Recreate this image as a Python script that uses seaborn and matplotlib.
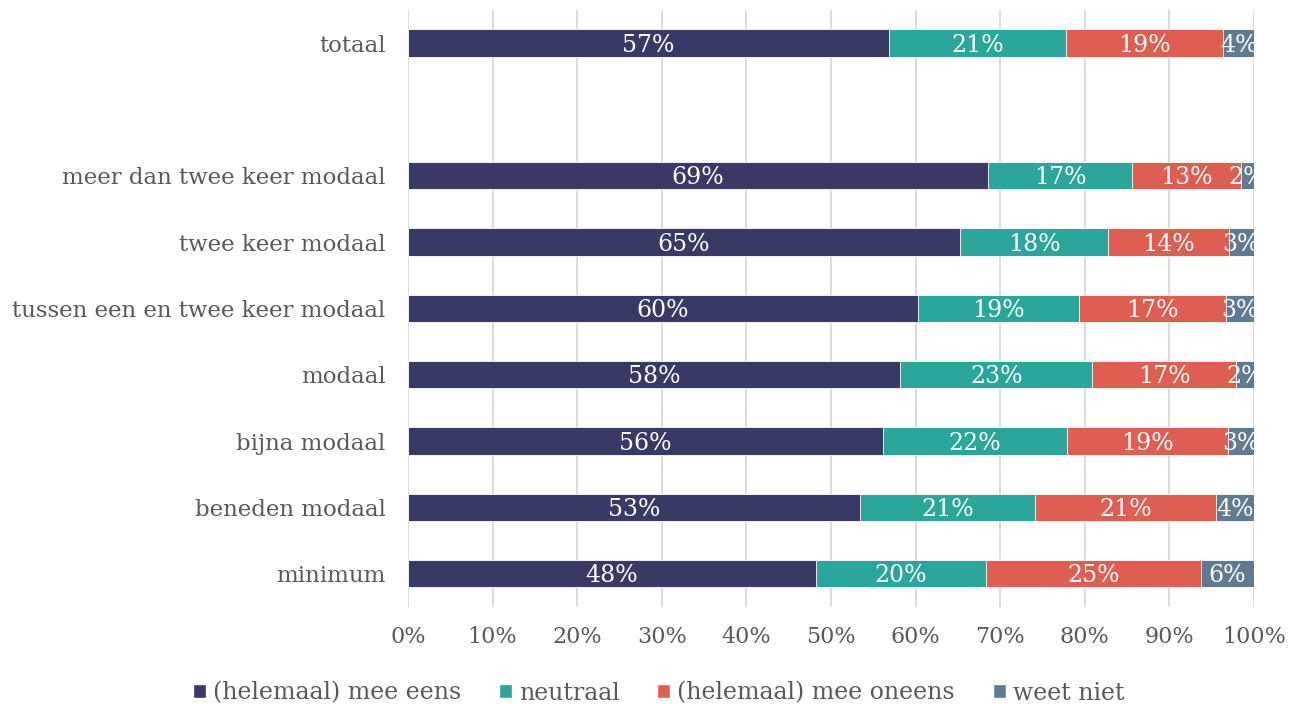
import matplotlib
matplotlib.use("Agg")
import matplotlib.pyplot as plt
import seaborn as sns
import pandas as pd
import numpy as np
from matplotlib.patches import Patch

# data (percentages)
groups = ['totaal', 'meer dan twee keer modaal', 'twee keer modaal',
          'tussen een en twee keer modaal', 'modaal', 'bijna modaal',
          'beneden modaal', 'minimum']
series = ['(helemaal) mee eens', 'neutraal', '(helemaal) mee oneens', 'weet niet']
mee_eens = [56.9, 68.6, 65.2, 60.3, 58.2, 56.1, 53.4, 48.2]
neutraal = [20.9, 17.0, 17.6, 19.0, 22.7, 21.8, 20.7, 20.1]
mee_oneens = [18.6, 12.9, 14.2, 17.4, 17.0, 19.0, 21.4, 25.4]
weet_niet = [3.6, 1.5, 3.0, 3.3, 2.1, 3.1, 4.5, 6.3]

colors = ['#383965', '#2aa79a', '#df5e52', '#607a8f']
order = ['totaal', ' '] + groups[1:]

sns.set_style("white")
plt.rcParams['font.family'] = ['DejaVu Serif']

df = pd.DataFrame({'groep': groups, series[0]: mee_eens, series[1]: neutraal,
                   series[2]: mee_oneens, series[3]: weet_niet})
cum = df[series].cumsum(axis=1)

fig = plt.figure(figsize=(12.91, 7.04), dpi=100)
ax = fig.add_axes([0.316, 0.138, 0.6553, 0.848])

# stacked bars: draw cumulative totals from the back to the front
for s, c in reversed(list(zip(series, colors))):
    sns.barplot(x=cum[s], y=df['groep'], order=order, color=c, orient='h',
                saturation=1, width=0.41, edgecolor='white', linewidth=0.6,
                ax=ax, zorder=3)

# value labels
pos = {g: order.index(g) for g in groups}
for s in series:
    starts = cum[s] - df[s]
    for g, v, st in zip(df['groep'], df[s], starts):
        ax.text(st + v / 2, pos[g] + 0.03, f'{round(v):d}%', ha='center', va='center',
                color='white', fontsize=17, zorder=5)

ax.set_xlim(0, 100)
ax.set_ylim(8.5, -0.5)
ax.set_xticks(np.arange(0, 101, 10))
ax.set_xticklabels([f'{t}%' for t in range(0, 101, 10)])
ax.xaxis.grid(True, color='#d9d9d9', linewidth=1.3, zorder=0)
ax.set_axisbelow(True)
ax.set_xlabel('')
ax.set_ylabel('')
for sp in ax.spines.values():
    sp.set_visible(False)
ax.tick_params(axis='both', length=0, labelcolor='#595959')
ax.tick_params(axis='x', pad=14, labelsize=16)
ax.tick_params(axis='y', pad=16, labelsize=16.5)

handles = [Patch(facecolor=c, label=s) for s, c in zip(series, colors)]
fig.legend(handles=handles, loc='lower center', bbox_to_anchor=(0.51, -0.031),
           ncol=4, frameon=False, fontsize=17, labelcolor='#595959',
           handlelength=0.55, handleheight=0.55, handletextpad=0.3, columnspacing=1.6)

plt.savefig('out.png', dpi=100)
plt.close()
